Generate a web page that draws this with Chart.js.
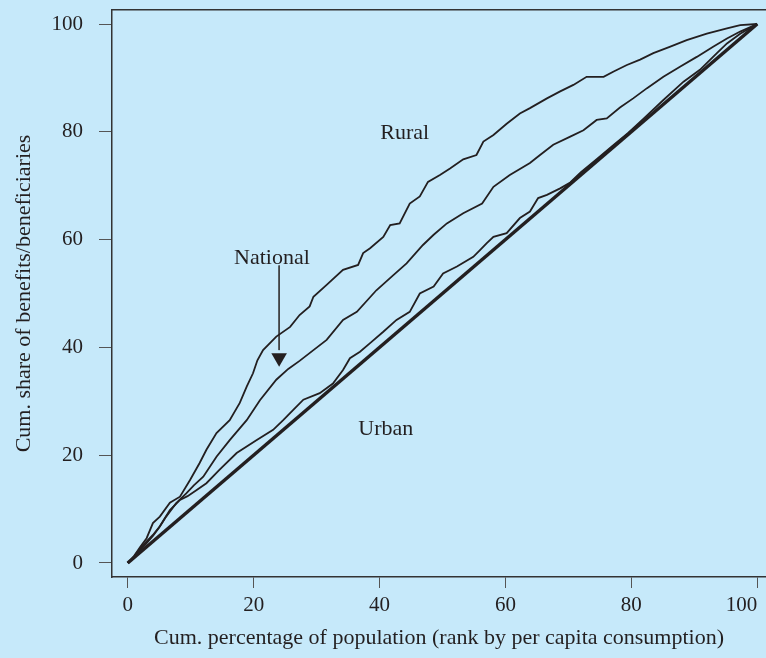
<!DOCTYPE html>
<html><head><meta charset="utf-8">
<script src="https://cdn.jsdelivr.net/npm/chart.js@4.4.0/dist/chart.umd.min.js"></script>
<style>html,body{margin:0;padding:0;background:#c6e9fa;}#wrap{width:766px;height:658px;}</style>
</head><body><div id="wrap"><canvas id="c" width="766" height="658"></canvas></div>
<script>
const xTicks = [0, 20, 40, 60, 80, 100];
const yTicks = [0, 20, 40, 60, 80, 100];
const xTitle = 'Cum. percentage of population (rank by per capita consumption)';
const yTitle = 'Cum. share of benefits/beneficiaries';

const ruralX = [0,1,2,3,4,5.1,6.7,8.3,9.9,11.4,12.5,14.1,16.2,17.8,18.9,19.9,20.6,21.5,23.6,25.8,27.3,28.9,29.5,31.6,34.2,36.6,37.4,38.5,40.6,41.7,43.2,44.8,46.4,47.7,49.6,51.2,53.3,55.4,56.5,58.1,60.2,62.3,63.9,66.6,68.7,70.8,72.9,75.6,77.2,79.3,81.4,83.5,86.2,88.8,92.0,95.2,97.3,100];
const ruralY = [0,1.3,3.0,4.6,7.4,8.6,11.2,12.3,15.4,18.5,21.0,24.1,26.5,29.7,32.7,35.2,37.6,39.5,42.0,43.8,46.0,47.6,49.4,51.6,54.4,55.3,57.5,58.4,60.5,62.7,63.0,66.7,68.0,70.7,72.0,73.2,74.9,75.7,78.2,79.4,81.5,83.4,84.4,86.2,87.5,88.7,90.2,90.2,91.2,92.4,93.4,94.6,95.8,97.0,98.2,99.2,99.8,100];

const nationalX = [0,1,2,3,4,5,6.1,7.7,9.3,10.5,12.0,14.1,16.2,18.9,21.0,23.6,25.5,27.3,29.5,31.6,34.2,36.4,39.5,42.2,44.3,46.9,48.6,50.7,53.3,56.3,58.1,60.7,63.9,65.5,67.6,70.3,72.4,74.5,76.1,78.2,80.3,82.5,85.1,87.8,90.4,93.0,95.2,97.3,100];
const nationalY = [0,1.0,2.4,3.7,5.0,6.6,8.6,11.1,12.9,14.4,16.0,19.7,22.8,26.5,30.2,34.0,36.0,37.5,39.5,41.4,45.1,46.6,50.6,53.4,55.6,59.0,60.9,63.0,64.9,66.7,69.8,72.0,74.2,75.7,77.6,79.1,80.3,82.2,82.5,84.5,86.2,88.1,90.2,92.1,93.9,95.8,97.3,98.6,100];

const urbanX = [0,1,2,3,4,5.1,6.7,8.3,9.5,10.9,12.5,14.6,17.3,20.5,23.1,24.7,26.3,27.9,30.5,32.6,34.2,35.3,36.9,38.5,40.6,42.7,44.8,46.4,48.6,50.1,52.3,54.9,56.0,57.0,58.1,60.2,62.3,63.9,65.2,66.6,68.7,70.3,72.0,74.5,77.0,79.5,82.0,85.1,88.3,90.9,93.6,95.2,97.3,100];
const urbanY = [0,1.2,2.7,4.0,5.2,6.8,9.8,11.7,12.4,13.5,14.8,17.3,20.4,22.8,24.7,26.5,28.4,30.3,31.5,33.3,35.8,38.0,39.2,40.8,42.9,45.1,46.6,50.0,51.3,53.7,55.0,56.8,58.1,59.3,60.5,61.2,64.0,65.2,67.7,68.3,69.5,70.6,72.5,74.9,77.4,79.8,82.5,85.9,89.3,91.5,94.6,96.4,98.2,100];

const equalityX = [0, 100];
const equalityY = [0, 100];

const noteText = ['Rural', 'National', 'Urban'];
const noteX = [44.0, 22.9, 41.0];
const noteY = [79.8, 56.6, 24.9];
const arrowX = [24.05, 24.05];
const arrowY = [55.2, 39.5];
const arrowHeadY = [38.1];

const ink = '#231f20';
const serif = 'Liberation Serif';
const pts = (xs, ys) => xs.map((x, i) => ({x: x, y: ys[i]}));

const bgPlugin = {
  id: 'bg',
  beforeDraw(chart) {
    const c = chart.ctx;
    c.save(); c.fillStyle = '#c6e9fa'; c.fillRect(0, 0, chart.width, chart.height); c.restore();
  }
};
const notePlugin = {
  id: 'notes',
  afterDatasetsDraw(chart) {
    const c = chart.ctx, xs = chart.scales.x, ys = chart.scales.y;
    c.save();
    c.fillStyle = ink;
    c.font = '22px "' + serif + '"';
    c.textAlign = 'center'; c.textBaseline = 'middle';
    noteText.forEach((t, i) => c.fillText(t, xs.getPixelForValue(noteX[i]), ys.getPixelForValue(noteY[i])));
    c.restore();
  }
};

const lineDs = (label, data, w) => ({label, data, borderColor: ink, borderWidth: w, pointRadius: 0, tension: 0, fill: false});

new Chart(document.getElementById('c'), {
  type: 'line',
  data: {
    datasets: [
      lineDs('Equality', pts(equalityX, equalityY), 3.5),
      lineDs('Rural', pts(ruralX, ruralY), 1.8),
      lineDs('National', pts(nationalX, nationalY), 1.8),
      lineDs('Urban', pts(urbanX, urbanY), 1.8),
      {label: 'arrow', data: pts(arrowX, arrowY), borderColor: '#3a3a3a', borderWidth: 1, pointRadius: 0},
      {label: 'head', data: pts([arrowX[0]], arrowHeadY), showLine: false, pointStyle: 'triangle', pointRotation: 180, pointRadius: 9, backgroundColor: ink, borderColor: ink, borderWidth: 0}
    ]
  },
  options: {
    responsive: false,
    animation: false,
    devicePixelRatio: 1,
    layout: {autoPadding: false, padding: {top: 10, right: 0, left: 0, bottom: 0}},
    plugins: {legend: {display: false}, tooltip: {enabled: false}},
    scales: {
      x: {
        type: 'linear', position: 'bottom', min: -2.5, max: 101.4,
        afterBuildTicks: s => { s.ticks = [{value: -2.5}].concat(xTicks.map(v => ({value: v}))); },
        ticks: {
          font: {family: serif, size: 21}, color: ink, padding: 5, maxRotation: 0, autoSkip: false, align: 'inner',
          callback: v => (xTicks.includes(v) ? String(v) : '')
        },
        grid: {drawOnChartArea: false, drawTicks: true, tickLength: 11, lineWidth: 1,
               tickColor: ctx => (ctx.tick && xTicks.includes(ctx.tick.value) ? '#555' : 'rgba(0,0,0,0)')},
        border: {display: true, color: '#333', width: 1.5},
        title: {display: true, text: xTitle, font: {family: serif, size: 22}, color: ink, padding: {top: 4, bottom: 7}},
        afterFit: s => { s.height = 81; s.paddingLeft = 0; s.paddingRight = 0; }
      },
      xTop: {
        type: 'linear', position: 'top', min: -2.5, max: 101.4, axis: 'x',
        ticks: {display: false}, grid: {display: false, drawTicks: false},
        border: {display: true, color: '#333', width: 1.5},
        afterFit: s => { s.height = 0; s.paddingLeft = 0; s.paddingRight = 0; }
      },
      y: {
        type: 'linear', position: 'left', min: -2.6, max: 102.6,
        afterBuildTicks: s => { s.ticks = yTicks.map(v => ({value: v})); },
        ticks: {font: {family: serif, size: 21}, color: ink, padding: 16, autoSkip: false},
        grid: {drawOnChartArea: false, drawTicks: true, tickLength: 13, lineWidth: 1, color: '#555'},
        border: {display: true, color: '#333', width: 1.5},
        title: {display: true, text: yTitle, font: {family: serif, size: 22}, color: ink, padding: {top: 11, bottom: 0}},
        afterFit: s => { s.width = 112; s.paddingTop = 0; s.paddingBottom = 0; }
      }
    }
  },
  plugins: [bgPlugin, notePlugin]
});
</script>
</body></html>
